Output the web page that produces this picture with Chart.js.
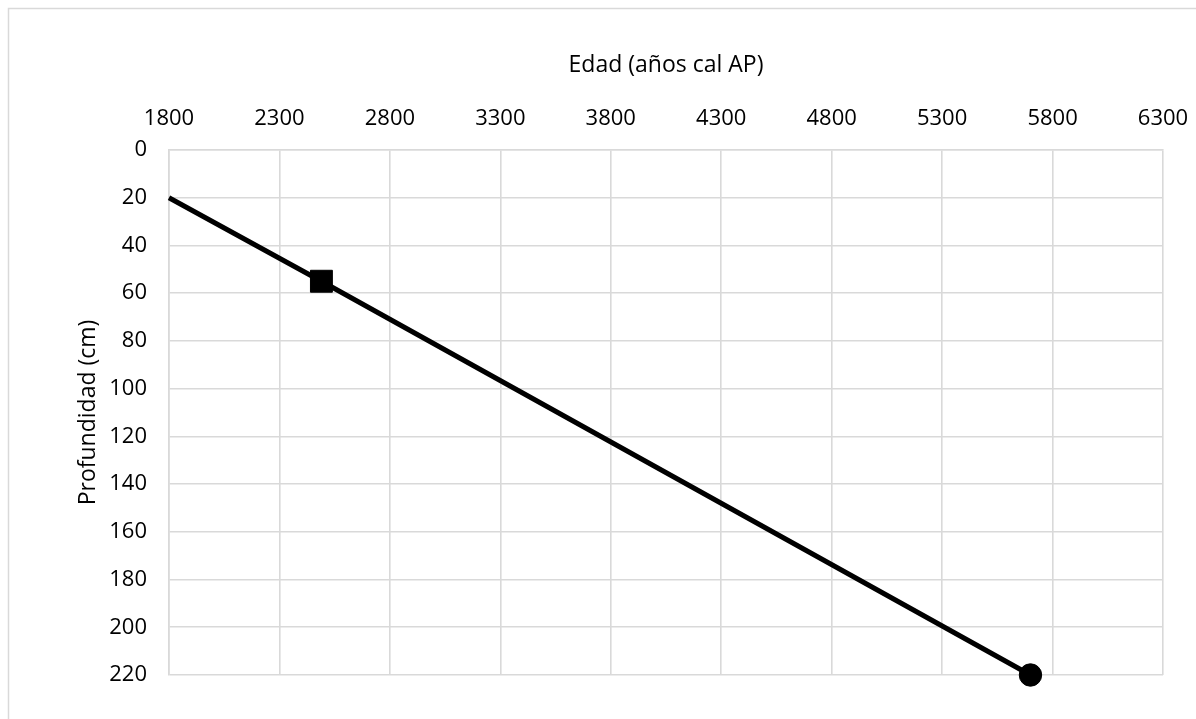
<!DOCTYPE html>
<html>
<head>
<meta charset="utf-8">
<script src="https://cdn.jsdelivr.net/npm/chart.js@4"></script>
<style>
  html, body { margin: 0; padding: 0; background: #fff; }
  #wrap { width: 1196px; height: 719px; }
</style>
</head>
<body>
<div id="wrap"><canvas id="ageChart" width="1196" height="719"></canvas></div>
<script>
// edad (años cal AP) vs profundidad (cm)
const ages = [1800, 2490, 5700];
const depths = [20, 55, 220];
const markerStyles = ['circle', 'rect', 'circle'];
const markerSizes = [0, 15.5, 11.2];
const xTicks = [1800, 2300, 2800, 3300, 3800, 4300, 4800, 5300, 5800, 6300];
const yTicks = [0, 20, 40, 60, 80, 100, 120, 140, 160, 180, 200, 220];

const gridColor = '#d9d9d9';
const fontFamily = '"Open Sans", sans-serif';

const frame = {
    id: 'frame',
    beforeDraw(chart) {
        const ctx = chart.ctx;
        ctx.save();
        ctx.fillStyle = '#fff';
        ctx.fillRect(0, 0, chart.width, chart.height);
        ctx.strokeStyle = gridColor;
        ctx.lineWidth = 1.5;
        ctx.strokeRect(8.5, 8.5, 1400, 1000);
        ctx.restore();
    }
};

const ctx = document.getElementById('ageChart').getContext('2d');
const ageChart = new Chart(ctx, {
    type: 'scatter',
    data: {
        datasets: [{
            data: ages.map((a, i) => ({ x: a, y: depths[i] })),
            showLine: true,
            clip: false,
            borderColor: '#000',
            borderWidth: 5,
            backgroundColor: '#000',
            pointStyle: markerStyles,
            pointRadius: markerSizes,
            pointBorderWidth: 1,
            pointBorderColor: '#000',
            pointBackgroundColor: '#000',
            tension: 0
        }]
    },
    options: {
        responsive: false,
        animation: false,
        events: [],
        layout: { padding: { left: 0, top: 0, right: 33, bottom: 44 } },
        plugins: { legend: { display: false }, tooltip: { enabled: false } },
        scales: {
            x: {
                type: 'linear',
                position: 'top',
                min: 1800, max: 6300,
                afterBuildTicks: s => { s.ticks = xTicks.map(v => ({ value: v })); },
                afterFit: s => { s.height = 150; s.paddingLeft = 0; s.paddingRight = 0; },
                grid: { color: gridColor, lineWidth: 1.6, drawTicks: false },
                border: { color: gridColor, width: 1.6 },
                ticks: {
                    color: '#000', padding: 18, maxRotation: 0,
                    font: { family: fontFamily, size: 22 },
                    callback: v => String(v)
                },
                title: {
                    display: true, text: 'Edad (años cal AP)', color: '#000',
                    font: { family: fontFamily, size: 23 }, padding: { top: 52, bottom: 0 }
                }
            },
            y: {
                type: 'linear',
                reverse: true,
                min: 0, max: 220,
                afterBuildTicks: s => { s.ticks = yTicks.map(v => ({ value: v })); },
                afterFit: s => { s.width = 169; s.paddingTop = 0; s.paddingBottom = 0; },
                grid: { color: gridColor, lineWidth: 1.6, drawTicks: false },
                border: { color: gridColor, width: 1.6 },
                ticks: {
                    color: '#000', padding: 22,
                    font: { family: fontFamily, size: 22 },
                    callback: v => String(v)
                },
                title: {
                    display: true, text: 'Profundidad (cm)', color: '#000',
                    font: { family: fontFamily, size: 23 }, padding: { top: 75, bottom: 0 }
                }
            }
        }
    },
    plugins: [frame]
});
</script>
</body>
</html>
